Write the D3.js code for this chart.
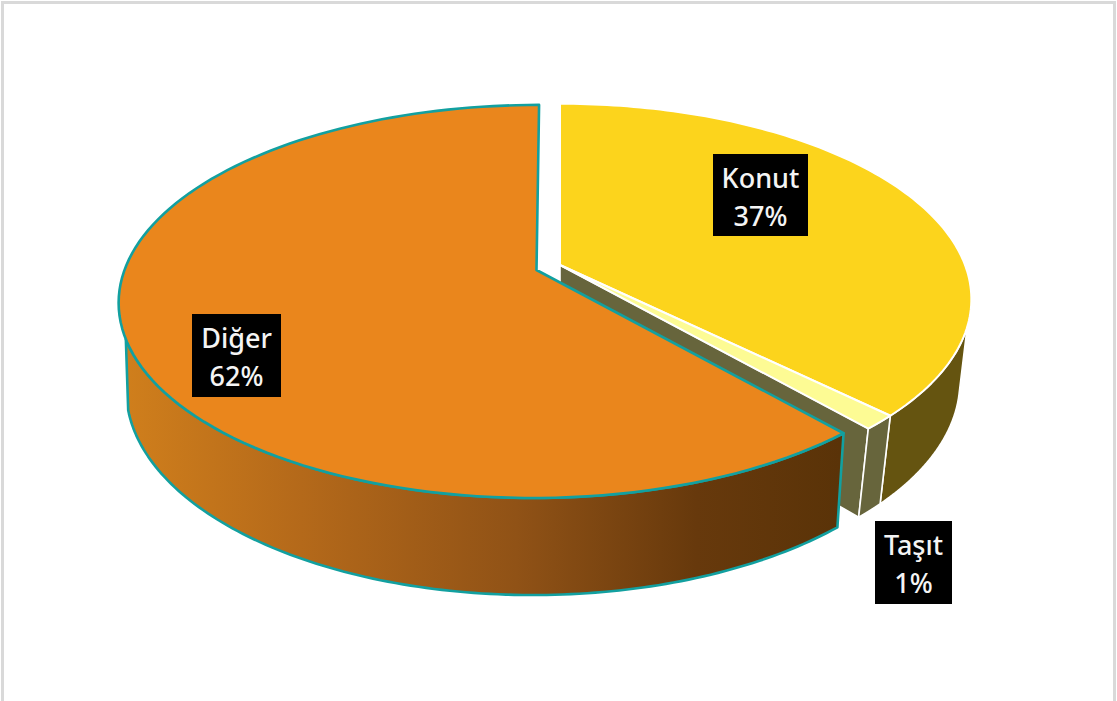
<!DOCTYPE html>
<html><head><meta charset="utf-8">
<script src="https://cdn.jsdelivr.net/npm/d3@7"></script>
<style>html,body{margin:0;padding:0;background:#fff;overflow:hidden}svg{display:block}</style>
</head><body><svg id="c" width="1117" height="701"></svg>
<script>
const categories = ["Konut", "Taşıt", "Diğer"];
const values = [37.3, 1.2, 61.5];
const labelText = ["37%", "1%", "62%"];
const topColors = ["#fcd41c", "#fdfb94", "#ea861c"];
const wallColors = ["#655410", "#67653c", "url(#wallGrad)"];
const strokeColors = ["#fff", "#fff", "#12a0a0"];

const svg = d3.select("#c");
svg.append("rect").attr("x",2.5).attr("y",2.5).attr("width",1112).attr("height",720)
  .attr("fill","#fff").attr("stroke","#d9d9d9").attr("stroke-width",3);

const defs = svg.append("defs");
const g = defs.append("linearGradient").attr("id","wallGrad")
  .attr("gradientUnits","userSpaceOnUse").attr("x1",122).attr("x2",840).attr("y1",0).attr("y2",0);
[[0,"#d07f1c"],[0.25,"#b4691a"],[0.55,"#905216"],[0.8,"#67390c"],[1,"#5a3308"]]
  .forEach(s=>g.append("stop").attr("offset",s[0]).attr("stop-color",s[1]));

// perspective model of the tilted disc
const views = [
  {cx:560, cy:265, a:405, e:0, P:.175, H:189.5, D:84, Q:.028},
  {cx:560, cy:265, a:405, e:0, P:.175, H:189.5, D:84, Q:.028},
  {cx:536.5, cy:270, a:412, e:-3, P:.16, H:191.5, D:87.4, Q:.018}
];
const proj = (v, u, w, z) => {
  const k = 1 - v.P*w + v.Q*z;
  return [v.cx + (v.a*u + v.e*w)/k, v.cy + (v.H*w + v.D*z)/k];
};
const rim = (v, ang, z) => proj(v, Math.sin(ang), -Math.cos(ang), z);
const apex = (v, z) => proj(v, 0, 0, z);
const arc = (v, a0, a1, z) => d3.range(0, 121).map(i => rim(v, a0 + (a1-a0)*i/120, z));
const line = d3.line().curve(d3.curveLinear);

const pie = d3.pie().sort(null).value(d=>d).startAngle(0).endAngle(2*Math.PI);
const arcs = pie(values);
const deg = d => d*Math.PI/180;
// where the visible outer wall starts and ends, on the upper and the lower rim
const wallStartTop = [deg(108), null, null], wallStartBottom = [deg(103), null, null];
const wallEndTop = [null, null, deg(250)], wallEndBottom = [null, null, deg(255)];

function drawWall(i){
  const v = views[i], A = arcs[i];
  const pts = arc(v, wallStartTop[i] ?? A.startAngle, wallEndTop[i] ?? A.endAngle, 0)
    .concat(arc(v, wallEndBottom[i] ?? A.endAngle, wallStartBottom[i] ?? A.startAngle, 1));
  svg.append("path").attr("d",line(pts)+"Z").attr("fill",wallColors[i])
    .attr("stroke",i===2?strokeColors[2]:"#fff").attr("stroke-width",i===2?2.6:1.6).attr("stroke-linejoin","round");
}
function drawFace(i, ang){
  const v = views[i];
  const pts = [apex(v,0), rim(v,ang,0), rim(v,ang,1), apex(v,1)];
  svg.append("path").attr("d",line(pts)+"Z").attr("fill",wallColors[1])
    .attr("stroke","#fff").attr("stroke-width",1.6).attr("stroke-linejoin","round");
}
function drawTop(i){
  const v = views[i], A = arcs[i];
  const pts = [apex(v,0)].concat(arc(v,A.startAngle,A.endAngle,0));
  svg.append("path").attr("d",line(pts)+"Z").attr("fill",topColors[i])
    .attr("stroke",strokeColors[i]).attr("stroke-width",i===2?2.6:2).attr("stroke-linejoin","round");
}

// painter's order: back faces, walls, tops
drawFace(1, arcs[1].endAngle);
drawWall(0); drawWall(1);
drawTop(0); drawTop(1);
drawWall(2); drawTop(2);

// data labels
const labelBoxes = [[713,154,95,82],[875,521,77,83],[192,314,89,83]];
const font = "'Noto Sans','Open Sans',sans-serif";
categories.forEach((c,i)=>{
  const [x,y,w,h] = labelBoxes[i];
  svg.append("rect").attr("x",x).attr("y",y).attr("width",w).attr("height",h).attr("fill","#000");
  [c,labelText[i]].forEach((t,j)=>{
    svg.append("text").attr("x",x+w/2).attr("y",y+34+j*37.5).attr("text-anchor","middle")
      .attr("font-family",font).attr("font-size",27).attr("font-weight",500).attr("fill","#f4f4f4").text(t);
  });
});
</script></body></html>
